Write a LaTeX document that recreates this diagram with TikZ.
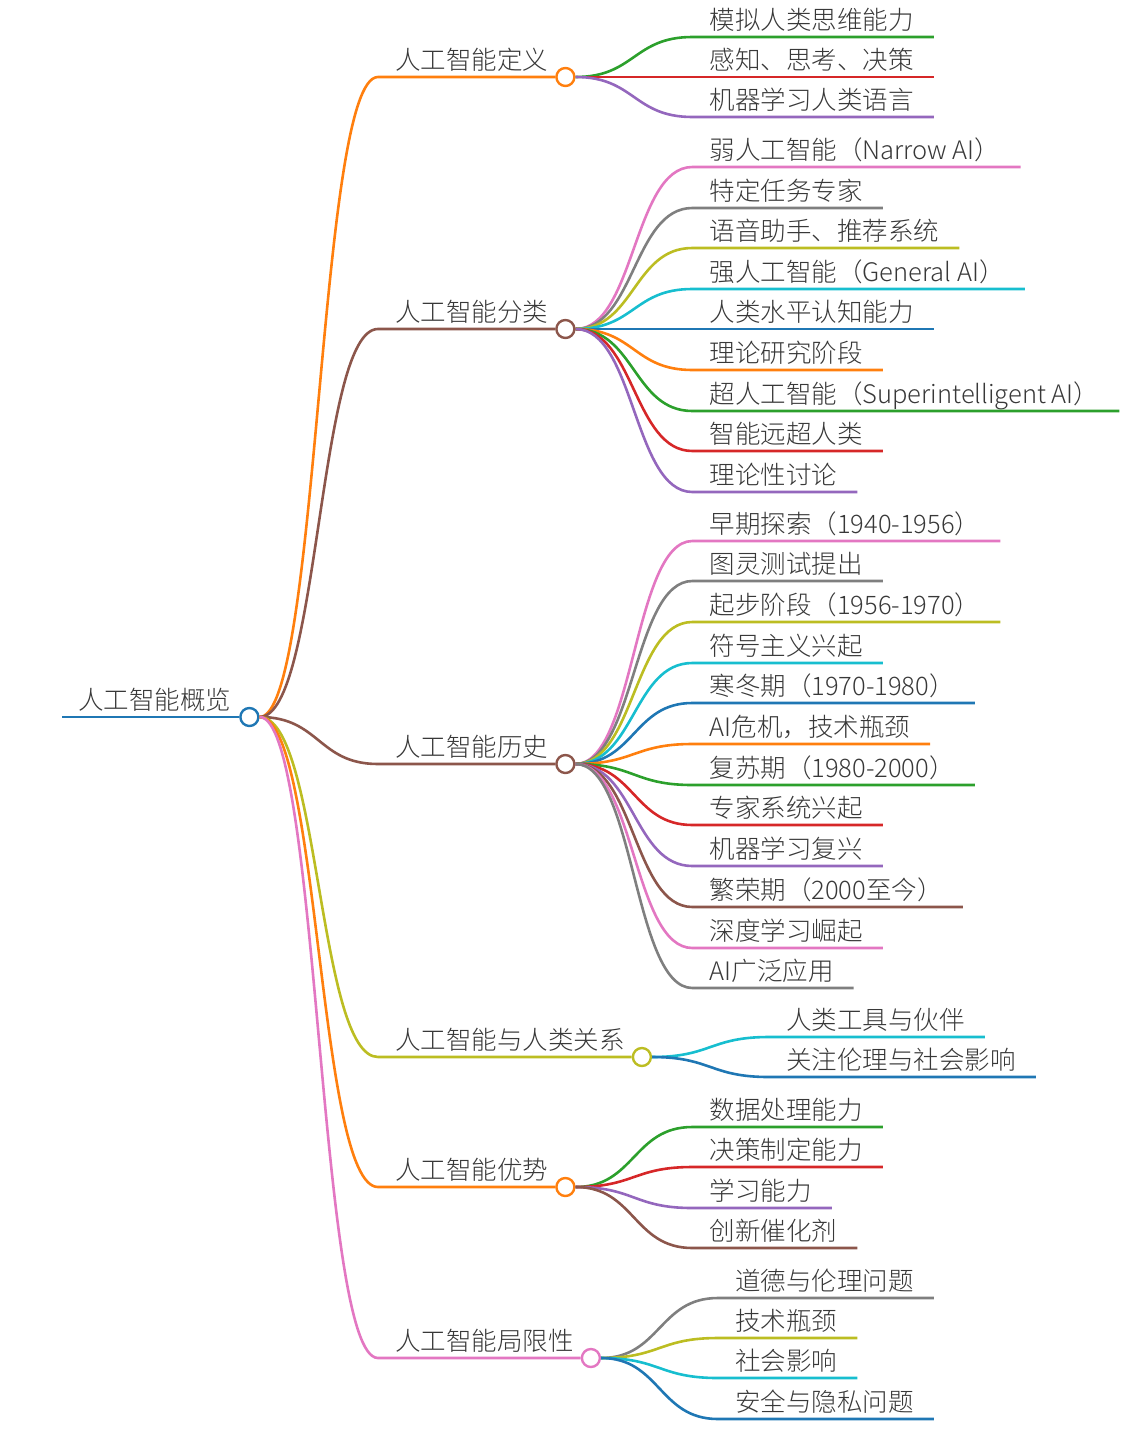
\documentclass[tikz,border=0pt]{standalone}
\usepackage{fontspec}
\newfontfamily\cjk{Noto Sans CJK SC Light}
\usepackage{xcolor}
\usepackage{tikz}
\usetikzlibrary{calc,positioning}

\definecolor{cblue}{HTML}{1F77B4}
\definecolor{corange}{HTML}{FF7F0E}
\definecolor{cgreen}{HTML}{2CA02C}
\definecolor{cred}{HTML}{D62728}
\definecolor{cpurple}{HTML}{9467BD}
\definecolor{cbrown}{HTML}{8C564B}
\definecolor{cpink}{HTML}{E377C2}
\definecolor{cgray}{HTML}{7F7F7F}
\definecolor{colive}{HTML}{BCBD22}
\definecolor{ccyan}{HTML}{17BECF}

\begin{document}
\begin{tikzpicture}[x=1pt,y=-1pt,font=\cjk\fontsize{25.5}{30}\selectfont,
  txt/.style={inner sep=0pt,text=black!78,anchor=base west},
  hub/.style={circle,draw,fill=white,line width=2.4pt,minimum size=18pt,inner sep=0pt},
  branch/.style={line width=2.6pt}]
  \useasboundingbox (0,0) rectangle (1141,1448);

  % root
  \node[txt] (ai) at (78,709) {人工智能概览};
  \node[hub,draw=cblue] (aih) at ($(ai.east|-0,717)+(18,0)$) {};
  \draw[branch,cblue] ($(ai.west|-0,717)+(-16,0)$) -- (aih);

  % definition
  \node[txt] (def) at (395,69) {人工智能定义};
  \node[hub,draw=corange] (defh) at ($(def.east|-0,77)+(17,0)$) {};
  \draw[branch,corange] (aih.east) .. controls +(60,0) and +(-60,0) .. ($(def.west|-0,77)+(-17,0)$) -- (defh);
  \foreach \y/\t/\c [count=\k] in {37/模拟人类思维能力/cgreen,
                                   77/感知、思考、决策/cred,
                                   117/机器学习人类语言/cpurple}{
     \node[txt] (def\k) at ($(defh.center|-0,\y)+(144,-8)$) {\t};
     \draw[branch,\c] (defh.east) .. controls +(59,0) and +(-59,0) .. ($(def\k.west|-0,\y)+(-17,0)$)
        -- ($(def\k.east|-0,\y)+(20,0)$);}

  % types
  \node[txt] (typ) at (395,321) {人工智能分类};
  \node[hub,draw=cbrown] (typh) at ($(typ.east|-0,329)+(17,0)$) {};
  \draw[branch,cbrown] (aih.east) .. controls +(60,0) and +(-60,0) .. ($(typ.west|-0,329)+(-17,0)$) -- (typh);
  \foreach \y/\t/\c [count=\k] in {167/弱人工智能（Narrow AI）/cpink,
                                   208/特定任务专家/cgray,
                                   248/语音助手、推荐系统/colive,
                                   289/强人工智能（General AI）/ccyan,
                                   329/人类水平认知能力/cblue,
                                   370/理论研究阶段/corange,
                                   411/超人工智能（Superintelligent AI）/cgreen,
                                   451/智能远超人类/cred,
                                   492/理论性讨论/cpurple}{
     \node[txt] (typ\k) at ($(typh.center|-0,\y)+(144,-8)$) {\t};
     \draw[branch,\c] (typh.east) .. controls +(59,0) and +(-59,0) .. ($(typ\k.west|-0,\y)+(-17,0)$)
        -- ($(typ\k.east|-0,\y)+(20,0)$);}

  % history
  \node[txt] (his) at (395,756) {人工智能历史};
  \node[hub,draw=cbrown] (hish) at ($(his.east|-0,764)+(17,0)$) {};
  \draw[branch,cbrown] (aih.east) .. controls +(60,0) and +(-60,0) .. ($(his.west|-0,764)+(-17,0)$) -- (hish);
  \foreach \y/\t/\c [count=\k] in {541/早期探索（1940-1956）/cpink,
                                   581/图灵测试提出/cgray,
                                   622/起步阶段（1956-1970）/colive,
                                   663/符号主义兴起/ccyan,
                                   703/寒冬期（1970-1980）/cblue,
                                   744/AI危机，技术瓶颈/corange,
                                   785/复苏期（1980-2000）/cgreen,
                                   825/专家系统兴起/cred,
                                   866/机器学习复兴/cpurple,
                                   907/繁荣期（2000至今）/cbrown,
                                   948/深度学习崛起/cpink,
                                   988/AI广泛应用/cgray}{
     \node[txt] (his\k) at ($(hish.center|-0,\y)+(144,-8)$) {\t};
     \draw[branch,\c] (hish.east) .. controls +(59,0) and +(-59,0) .. ($(his\k.west|-0,\y)+(-17,0)$)
        -- ($(his\k.east|-0,\y)+(20,0)$);}

  % relation to humans
  \node[txt] (rel) at (395,1049) {人工智能与人类关系};
  \node[hub,draw=colive] (relh) at ($(rel.east|-0,1057)+(17,0)$) {};
  \draw[branch,colive] (aih.east) .. controls +(60,0) and +(-60,0) .. ($(rel.west|-0,1057)+(-17,0)$) -- (relh);
  \foreach \y/\t/\c [count=\k] in {1037/人类工具与伙伴/ccyan,
                                   1077/关注伦理与社会影响/cblue}{
     \node[txt] (rel\k) at ($(relh.center|-0,\y)+(144,-8)$) {\t};
     \draw[branch,\c] (relh.east) .. controls +(59,0) and +(-59,0) .. ($(rel\k.west|-0,\y)+(-17,0)$)
        -- ($(rel\k.east|-0,\y)+(20,0)$);}

  % advantages
  \node[txt] (adv) at (395,1179) {人工智能优势};
  \node[hub,draw=corange] (advh) at ($(adv.east|-0,1187)+(17,0)$) {};
  \draw[branch,corange] (aih.east) .. controls +(60,0) and +(-60,0) .. ($(adv.west|-0,1187)+(-17,0)$) -- (advh);
  \foreach \y/\t/\c [count=\k] in {1127/数据处理能力/cgreen,
                                   1167/决策制定能力/cred,
                                   1208/学习能力/cpurple,
                                   1248/创新催化剂/cbrown}{
     \node[txt] (adv\k) at ($(advh.center|-0,\y)+(144,-8)$) {\t};
     \draw[branch,\c] (advh.east) .. controls +(59,0) and +(-59,0) .. ($(adv\k.west|-0,\y)+(-17,0)$)
        -- ($(adv\k.east|-0,\y)+(20,0)$);}

  % limits
  \node[txt] (lim) at (395,1350) {人工智能局限性};
  \node[hub,draw=cpink] (limh) at ($(lim.east|-0,1358)+(17,0)$) {};
  \draw[branch,cpink] (aih.east) .. controls +(60,0) and +(-60,0) .. ($(lim.west|-0,1358)+(-17,0)$) -- (limh);
  \foreach \y/\t/\c [count=\k] in {1298/道德与伦理问题/cgray,
                                   1338/技术瓶颈/colive,
                                   1378/社会影响/ccyan,
                                   1419/安全与隐私问题/cblue}{
     \node[txt] (lim\k) at ($(limh.center|-0,\y)+(144,-8)$) {\t};
     \draw[branch,\c] (limh.east) .. controls +(59,0) and +(-59,0) .. ($(lim\k.west|-0,\y)+(-17,0)$)
        -- ($(lim\k.east|-0,\y)+(20,0)$);}
\end{tikzpicture}
\end{document}
